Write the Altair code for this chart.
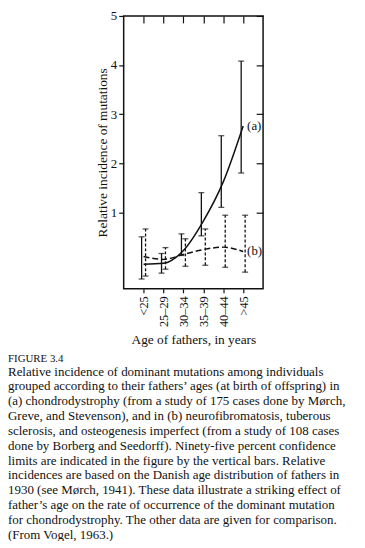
import altair as alt
import pandas as pd

# ---- data ----
ages = ["<25", "25–29", "30–34", "35–39", "40–44", ">45"]
# (a) chondrodystrophy (solid)
a_mid = [-0.06, -0.04, 0.22, 0.82, 1.62, 2.76]
a_lo = [-0.36, -0.24, 0.12, 0.52, 1.10, 1.80]
a_hi = [0.50, 0.16, 0.56, 1.40, 2.56, 4.08]
# (b) neurofibromatosis etc. (dashed)
b_mid = [0.10, 0.04, 0.14, 0.24, 0.29, 0.20]
b_lo = [-0.30, -0.16, -0.10, -0.08, -0.12, -0.22]
b_hi = [0.66, 0.28, 0.46, 0.66, 0.94, 0.94]

y_ticks = [1, 2, 3, 4, 5]
label_age = [">45", ">45"]
label_val = [2.76, 0.20]
label_txt = ["(a)", "(b)"]

caption_head = "FIGURE 3.4"
caption_lines = [
    "Relative incidence of dominant mutations among individuals",
    "grouped according to their fathers’ ages (at birth of offspring) in",
    "(a) chondrodystrophy (from a study of 175 cases done by Mørch,",
    "Greve, and Stevenson), and in (b) neurofibromatosis, tuberous",
    "sclerosis, and osteogenesis imperfect (from a study of 108 cases",
    "done by Borberg and Seedorff). Ninety-five percent confidence",
    "limits are indicated in the figure by the vertical bars. Relative",
    "incidences are based on the Danish age distribution of fathers in",
    "1930 (see Mørch, 1941). These data illustrate a striking effect of",
    "father’s age on the rate of occurrence of the dominant mutation",
    "for chondrodystrophy. The other data are given for comparison.",
    "(From Vogel, 1963.)",
]

df = pd.DataFrame({"age": ages, "a_mid": a_mid, "a_lo": a_lo, "a_hi": a_hi,
                   "b_mid": b_mid, "b_lo": b_lo, "b_hi": b_hi})
labels = pd.DataFrame({"age": label_age, "val": label_val, "lab": label_txt})

FONT = "Liberation Serif"
INK = "#111111"
W, H = 141, 276

xs = alt.Scale(type="point", domain=ages, padding=1.025)
ys = alt.Scale(domain=[-0.56, 5], nice=False, zero=False)

base = alt.Chart(df)

# main layer carries bottom / left axes
a_bars = base.mark_rule(color=INK, strokeWidth=1.3, xOffset=-2).encode(
    x=alt.X("age:N", scale=xs, sort=ages, title="Age of fathers, in years",
            axis=alt.Axis(labelAngle=-90, tickSize=4, labelPadding=3, domain=False,
                          labelFontSize=12.5, titleFontSize=13.5, titlePadding=6,
                          titleFontWeight="normal")),
    y=alt.Y("a_lo:Q", scale=ys, title="Relative incidence of mutations",
            axis=alt.Axis(values=y_ticks, tickSize=5, labelPadding=2, domain=False,
                          grid=False, labelFontSize=13, titleFontSize=13.5,
                          titlePadding=1, titleFontWeight="normal")),
    y2="a_hi:Q",
)

a_caps = base.transform_fold(["a_lo", "a_hi"], as_=["k", "v"]).mark_tick(
    color=INK, thickness=1.3, size=6, orient="horizontal", xOffset=-2).encode(
    x=alt.X("age:N", scale=xs, axis=None),
    y=alt.Y("v:Q", scale=ys, axis=None),
)

b_bars = base.mark_rule(color=INK, strokeWidth=1.3, strokeDash=[3, 2], xOffset=2).encode(
    x=alt.X("age:N", scale=xs, axis=None),
    y=alt.Y("b_lo:Q", scale=ys, axis=None),
    y2="b_hi:Q",
)

b_caps = base.transform_fold(["b_lo", "b_hi"], as_=["k", "v"]).mark_tick(
    color=INK, thickness=1.3, size=6, orient="horizontal", xOffset=2).encode(
    x=alt.X("age:N", scale=xs, axis=None),
    y=alt.Y("v:Q", scale=ys, axis=None),
)

# solid curve carries the inward top / right ticks
a_line = base.mark_line(color=INK, strokeWidth=1.5, interpolate="monotone").encode(
    x=alt.X("age:N", scale=xs, sort=ages, title=None,
            axis=alt.Axis(orient="top", labels=False, domain=False, tickSize=7,
                          offset=-7, grid=False)),
    y=alt.Y("a_mid:Q", scale=ys, title=None,
            axis=alt.Axis(orient="right", values=y_ticks, labels=False, domain=False,
                          tickSize=7, offset=-7, grid=False)),
)

b_line = base.mark_line(color=INK, strokeWidth=1.5, strokeDash=[6, 3],
                        interpolate="monotone").encode(
    x=alt.X("age:N", scale=xs, axis=None),
    y=alt.Y("b_mid:Q", scale=ys, axis=None),
)

lab = alt.Chart(labels).mark_text(align="left", baseline="middle", dx=4,
                                  font=FONT, fontSize=13, color=INK).encode(
    x=alt.X("age:N", scale=xs, axis=None),
    y=alt.Y("val:Q", scale=ys, axis=None),
    text="lab:N",
)

chart = alt.layer(a_bars, a_caps, b_bars, b_caps, a_line, b_line, lab).resolve_axis(
    x="independent", y="independent"
).properties(
    width=W, height=H,
    autosize=alt.AutoSizeParams(type="none"),
    padding={"left": 117, "top": 5, "right": 95, "bottom": 252},
    background="white",
    title=alt.TitleParams(
        text=caption_head, subtitle=caption_lines, orient="bottom", anchor="start",
        frame="group", dx=-117, offset=7, font=FONT, fontSize=11,
        fontWeight="normal", color=INK, subtitleFont=FONT, subtitleFontSize=13.1,
        subtitleColor=INK, subtitleLineHeight=15.0, subtitlePadding=2,
    ),
).configure_view(stroke=INK, strokeWidth=1.5).configure_axis(
    labelFont=FONT, titleFont=FONT, labelColor=INK, titleColor=INK,
    tickColor=INK, tickWidth=1.2,
)

chart.save("out.html", embed_options={"renderer": "svg", "actions": False})
